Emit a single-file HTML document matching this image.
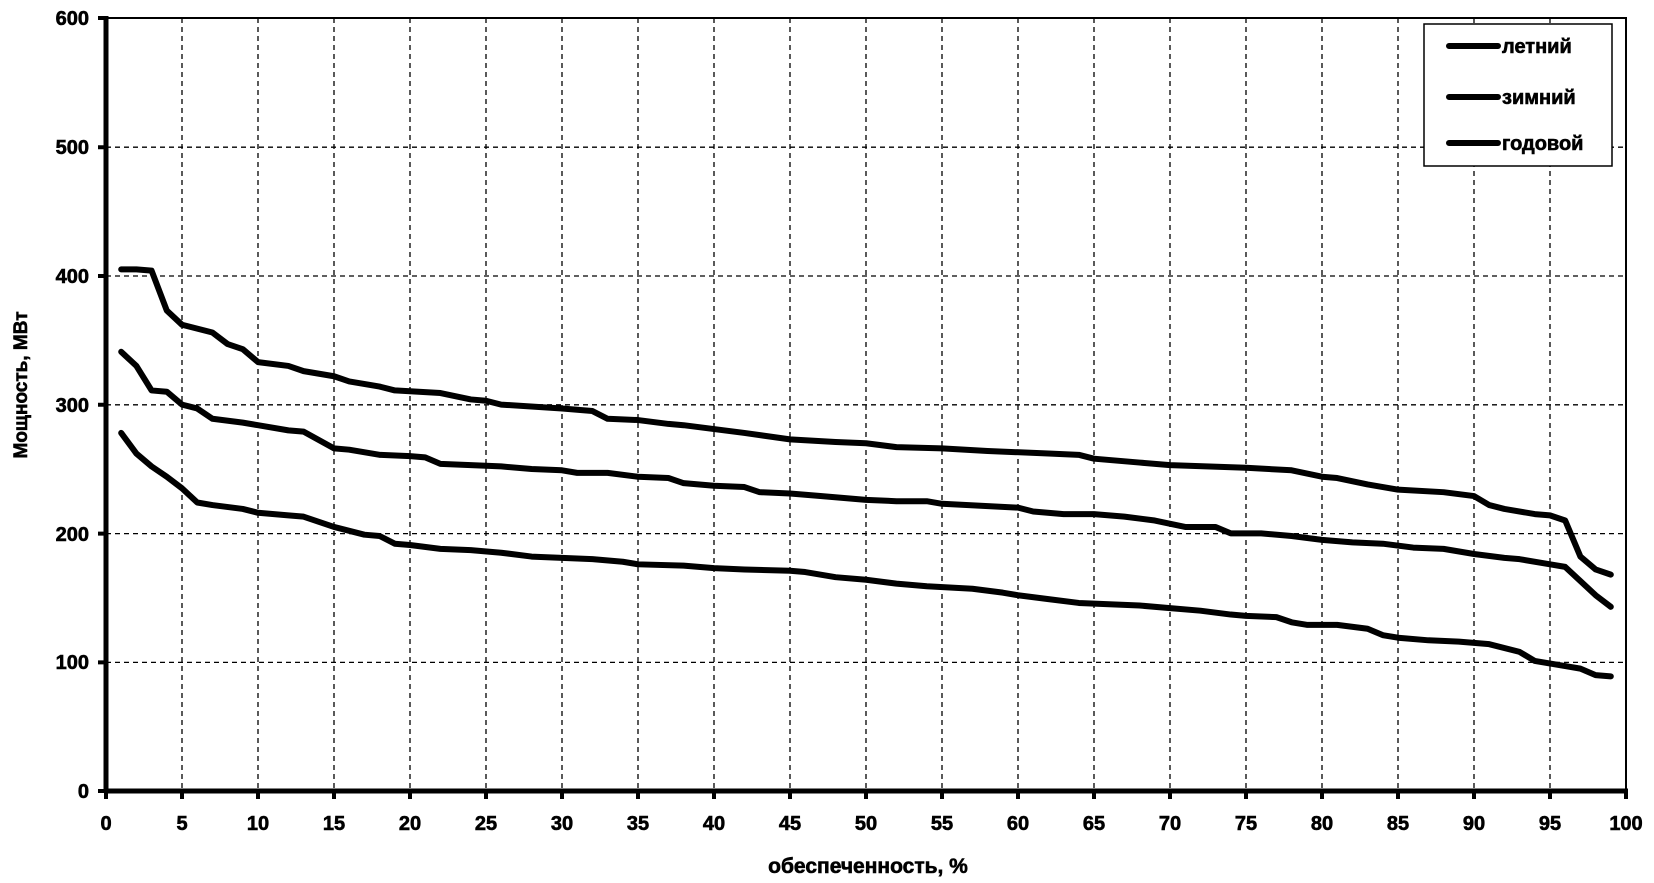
<!DOCTYPE html>
<html><head><meta charset="utf-8"><style>
body{margin:0;background:#fff}
svg{display:block}
text{font-family:"Liberation Sans",sans-serif;font-weight:bold;fill:#000;stroke:#000;stroke-width:0.6}
</style></head><body>
<svg width="1654" height="883" viewBox="0 0 1654 883" xmlns="http://www.w3.org/2000/svg">
<g stroke="#000" stroke-width="1.3" stroke-dasharray="5,4" fill="none">
<path d="M106 147.2H1626M106 276H1626M106 404.8H1626M106 533.6H1626M106 662.4H1626"/>
<path d="M182 18V791M258 18V791M334 18V791M410 18V791M486 18V791M562 18V791M638 18V791M714 18V791M790 18V791M866 18V791M942 18V791M1018 18V791M1094 18V791M1170 18V791M1246 18V791M1322 18V791M1398 18V791M1474 18V791M1550 18V791"/>
</g>
<path d="M106 18H1626V791" stroke="#000" stroke-width="2" fill="none"/>
<path d="M106 16V793M104 791H1628" stroke="#000" stroke-width="5" fill="none"/>
<g stroke="#000" stroke-width="4">
<path d="M98 18H106M98 147.2H106M98 276H106M98 404.8H106M98 533.6H106M98 662.4H106M98 791H106"/>
<path d="M106 791V799M182 791V799M258 791V799M334 791V799M410 791V799M486 791V799M562 791V799M638 791V799M714 791V799M790 791V799M866 791V799M942 791V799M1018 791V799M1094 791V799M1170 791V799M1246 791V799M1322 791V799M1398 791V799M1474 791V799M1550 791V799M1626 791V799"/>
</g>
<g font-size="20" text-anchor="end">
<text x="89" y="25">600</text><text x="89" y="154">500</text><text x="89" y="283">400</text><text x="89" y="412">300</text><text x="89" y="541">200</text><text x="89" y="669">100</text><text x="89" y="798">0</text>
</g>
<g font-size="20" text-anchor="middle">
<text x="106" y="830">0</text><text x="182" y="830">5</text><text x="258" y="830">10</text><text x="334" y="830">15</text><text x="410" y="830">20</text><text x="486" y="830">25</text><text x="562" y="830">30</text><text x="638" y="830">35</text><text x="714" y="830">40</text><text x="790" y="830">45</text><text x="866" y="830">50</text><text x="942" y="830">55</text><text x="1018" y="830">60</text><text x="1094" y="830">65</text><text x="1170" y="830">70</text><text x="1246" y="830">75</text><text x="1322" y="830">80</text><text x="1398" y="830">85</text><text x="1474" y="830">90</text><text x="1550" y="830">95</text><text x="1626" y="830">100</text>
</g>
<text x="868" y="873" font-size="21" text-anchor="middle">обеспеченность, %</text>
<text transform="translate(27,385) rotate(-90)" font-size="19" text-anchor="middle">Мощность, МВт</text>
<g transform="translate(106,791) scale(15.2,-1.288)" fill="none" stroke="#000" stroke-width="6" stroke-linejoin="round" stroke-linecap="round">
<polyline vector-effect="non-scaling-stroke" points="1,405 2,405 3,404 4,373 5,362 7,356 8,347 9,343 10,333 12,330 13,326 15,322 16,318 18,314 19,311 22,309 24,304 25,303 26,300 30,297 32,295 33,289 35,288 37,285 38,284 40,281 42,278 45,273 48,271 50,270 52,267 55,266 58,264 62,262 64,261 65,258 68,255 70,253 75,251 78,249 80,244 81,243 83,238 85,234 88,232 90,229 91,222 92,219 94,215 95,214 96,210 97,182 98,172 99,168"/>
<polyline vector-effect="non-scaling-stroke" points="1,341 2,330 3,311 4,310 5,300 6,297 7,289 9,286 10,284 12,280 13,279 15,266 16,265 18,261 20,260 21,259 22,254 24,253 26,252 28,250 30,249 31,247 33,247 35,244 37,243 38,239 40,237 42,236 43,232 45,231 47,229 50,226 52,225 54,225 55,223 60,220 61,217 63,215 65,215 67,213 69,210 71,205 73,205 74,200 76,200 78,198 80,195 82,193 84,192 86,189 88,188 90,184 92,181 93,180 95,176 96,174 98,152 99,143"/>
<polyline vector-effect="non-scaling-stroke" points="1,278 2,262 3,252 4,244 5,235 6,224 7,222 9,219 10,216 12,214 13,213 15,205 17,199 18,198 19,192 20,191 22,188 24,187 26,185 28,182 30,181 32,180 34,178 35,176 38,175 40,173 42,172 45,171 46,170 48,166 50,164 52,161 54,159 57,157 59,154 60,152 62,149 64,146 68,144 70,142 72,140 74,137 75,136 77,135 78,131 79,129 81,129 83,126 84,121 85,119 87,117 89,116 91,114 93,108 94,101 96,97 97,95 98,90 99,89"/>
</g>
<rect x="1424" y="24" width="188" height="142" fill="#fff" stroke="#000" stroke-width="1.5"/>
<g stroke="#000" stroke-width="6" stroke-linecap="round">
<path d="M1449 46H1498M1449 97H1498M1449 143H1498"/>
</g>
<g font-size="20" style="stroke-width:1">
<text x="1502" y="53">летний</text>
<text x="1502" y="104">зимний</text>
<text x="1502" y="150">годовой</text>
</g>
</svg>
</body></html>
